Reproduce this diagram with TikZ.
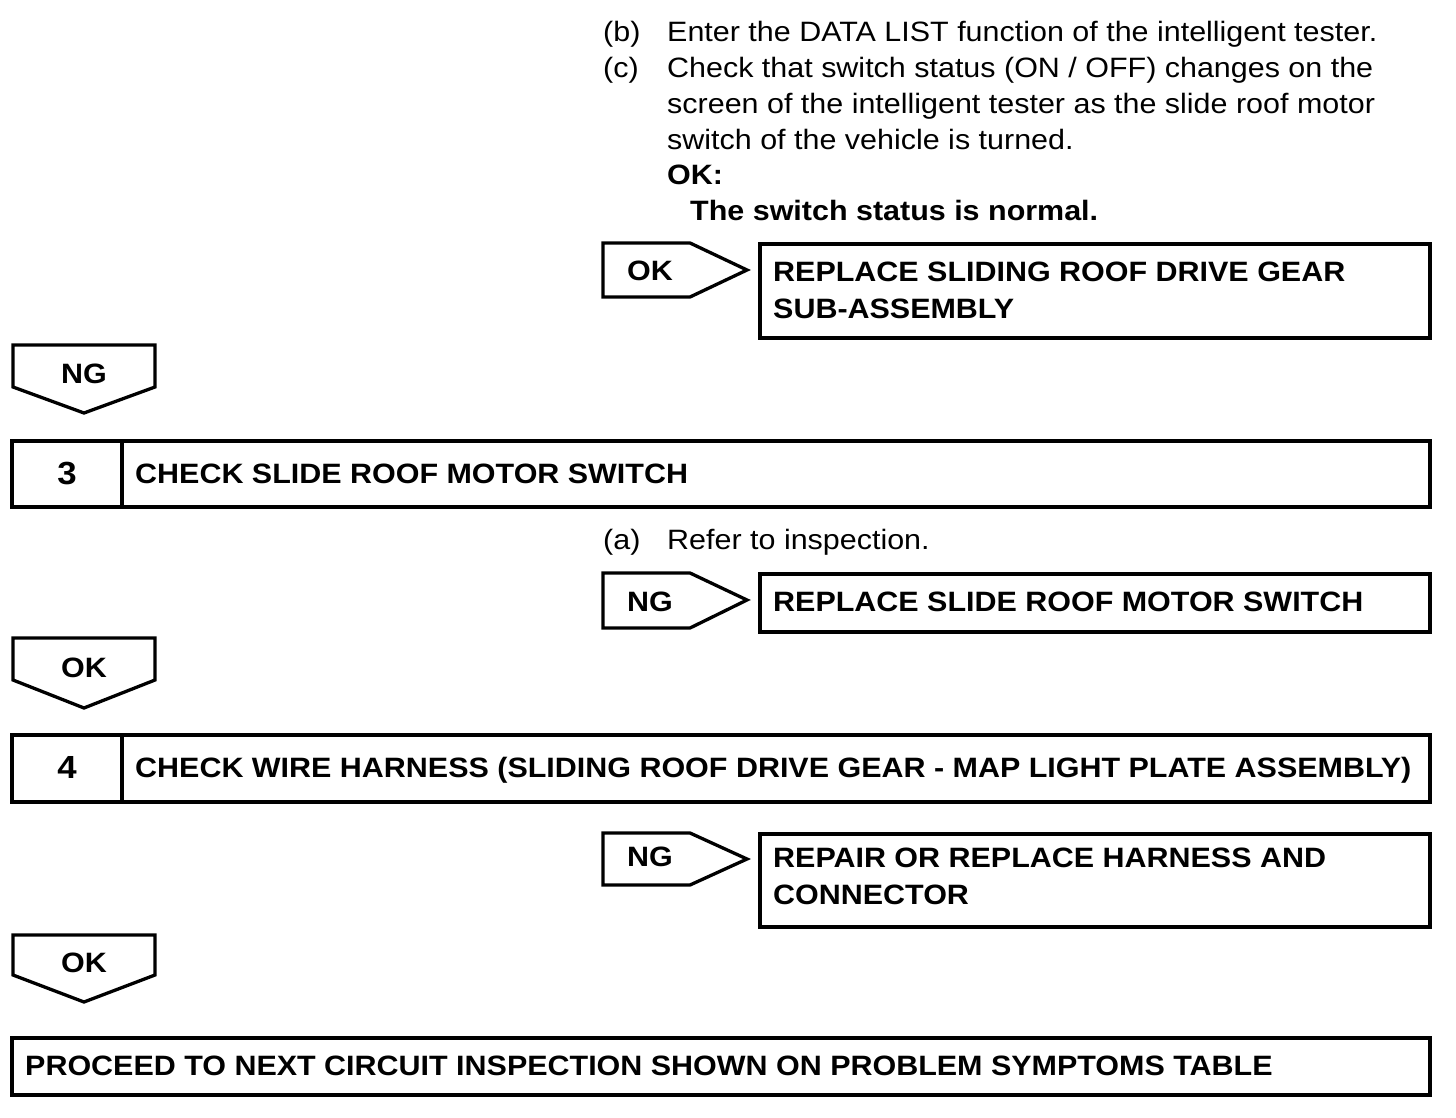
\documentclass[tikz,border=0pt]{standalone}
\usepackage{fontspec}
\setmainfont{Liberation Sans}[FakeStretch=1.088]
\begin{document}
\begin{tikzpicture}[x=1pt,y=-1pt,
  txt/.style={inner sep=0pt,anchor=base west,font=\fontsize{28}{36}\selectfont},
  btxt/.style={txt,font=\fontsize{28}{36}\selectfont\bfseries},
  ctxt/.style={inner sep=0pt,anchor=base,font=\fontsize{28}{36}\selectfont\bfseries},
  numtxt/.style={inner sep=0pt,anchor=base,font=\fontsize{32}{36}\selectfont\bfseries},
  frame/.style={draw=black,line width=3.3pt,line join=miter}]
\useasboundingbox (0,0) rectangle (1456,1118);
% top instructions
\node[txt] (b1) at (603,42) {(b)};
\node[txt] (b2) at (667,42) {Enter the DATA LIST function of the intelligent tester.};
\node[txt] (c1) at (603,78) {(c)};
\node[txt] (c2) at (667,78) {Check that switch status (ON / OFF) changes on the};
\node[txt] (c3) at (667,114) {screen of the intelligent tester as the slide roof motor};
\node[txt] (c4) at (667,150) {switch of the vehicle is turned.};
\node[btxt] (ok0) at (667,185) {OK:};
\node[btxt] (ok1) at (690,221) {The switch status is normal.};
% OK right arrow + result
\draw[frame] (603,243) -- (690,243) -- (747,270) -- (690,297) -- (603,297) -- cycle;
\node[btxt] (okA) at (627,280) {OK};
\draw[frame] (760,244) rectangle (1430,338);
\node[btxt] (r1a) at (773,281) {REPLACE SLIDING ROOF DRIVE GEAR};
\node[btxt] (r1b) at (773,318) {SUB-ASSEMBLY};
% NG down arrow
\draw[frame] (13,345) -- (155,345) -- (155,387) -- (84,413) -- (13,387) -- cycle;
\node[ctxt] (ngD1) at (84,383) {NG};
% Box 3
\draw[frame] (12,441) rectangle (1430,507);
\draw[frame] (122,441) -- (122,507);
\node[numtxt] (n3) at (67,484) {3};
\node[btxt] (t3) at (135,483) {CHECK SLIDE ROOF MOTOR SWITCH};
\node[txt] (a1) at (603,549) {(a)};
\node[txt] (a2) at (667,549) {Refer to inspection.};
% NG right arrow 2
\draw[frame] (603,573) -- (690,573) -- (747,600) -- (690,628) -- (603,628) -- cycle;
\node[btxt] (ngR2) at (627,611) {NG};
\draw[frame] (760,574) rectangle (1430,632);
\node[btxt] (r2) at (773,611) {REPLACE SLIDE ROOF MOTOR SWITCH};
% OK down arrow 2
\draw[frame] (13,638) -- (155,638) -- (155,680) -- (84,708) -- (13,680) -- cycle;
\node[ctxt] (okD2) at (84,677) {OK};
% Box 4
\draw[frame] (12,735) rectangle (1430,802);
\draw[frame] (122,735) -- (122,802);
\node[numtxt] (n4) at (67,778) {4};
\node[btxt] (t4) at (135,777) {CHECK WIRE HARNESS (SLIDING ROOF DRIVE GEAR - MAP LIGHT PLATE ASSEMBLY)};
% NG right arrow 3
\draw[frame] (603,833) -- (690,833) -- (747,859) -- (690,885) -- (603,885) -- cycle;
\node[btxt] (ngR3) at (627,866) {NG};
\draw[frame] (760,834) rectangle (1430,927);
\node[btxt] (r3a) at (773,867) {REPAIR OR REPLACE HARNESS AND};
\node[btxt] (r3b) at (773,904) {CONNECTOR};
% OK down arrow 3
\draw[frame] (13,935) -- (155,935) -- (155,975) -- (84,1002) -- (13,975) -- cycle;
\node[ctxt] (okD3) at (84,972) {OK};
% Final box
\draw[frame] (12,1038) rectangle (1430,1095);
\node[btxt] (fin) at (25,1075) {PROCEED TO NEXT CIRCUIT INSPECTION SHOWN ON PROBLEM SYMPTOMS TABLE};
\end{tikzpicture}
\end{document}
